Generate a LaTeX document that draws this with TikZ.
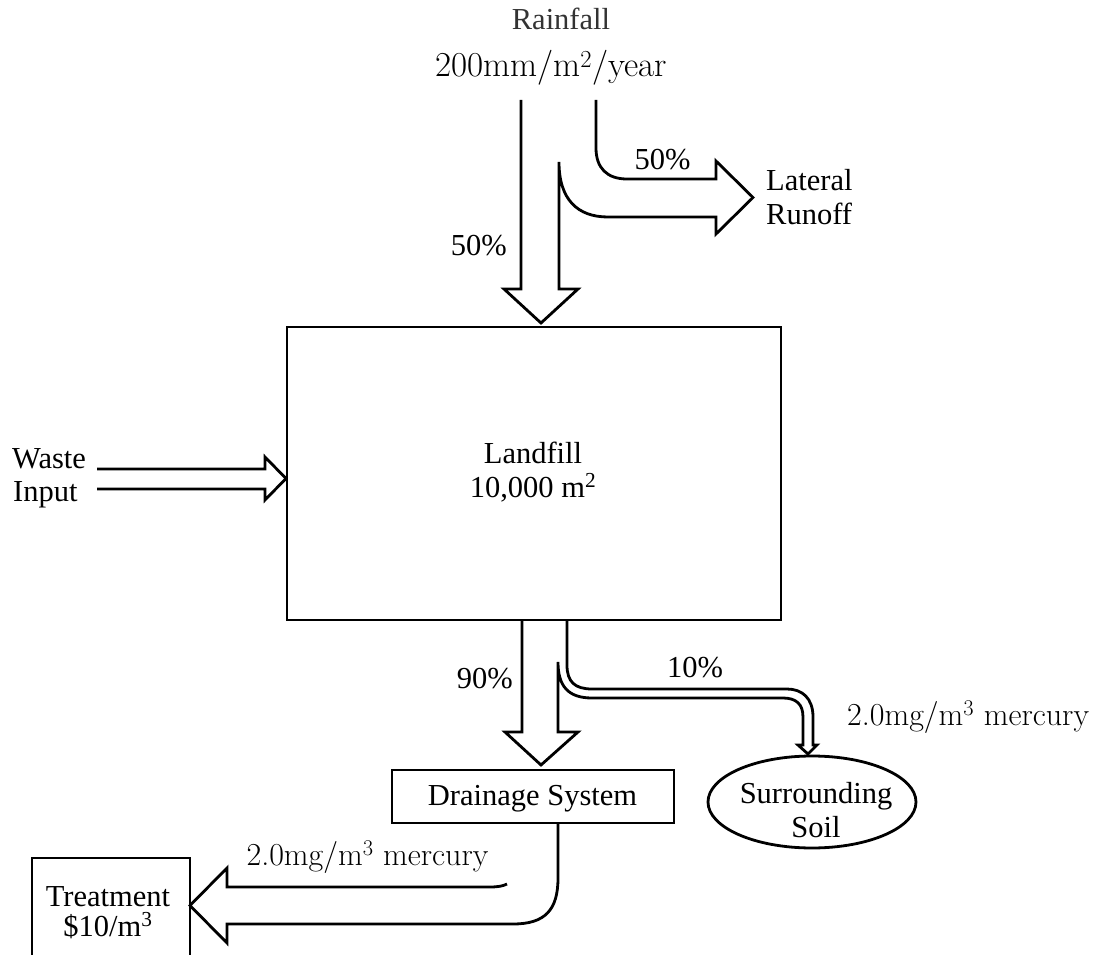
\documentclass[tikz,border=0pt]{standalone}
\usepackage{fontspec}
\setmainfont{Liberation Serif}
\newfontfamily\lmfont{Latin Modern Roman}
\usetikzlibrary{shapes.geometric}
\tikzset{
  ln/.style={line width=2.8pt, line join=miter, black},
  times/.style={font=\fontsize{30.5}{34}\selectfont, inner sep=0pt, text=black},
  lmtext/.style={font=\lmfont\fontsize{32}{36}\selectfont, inner sep=0pt, text=black},
  boxnode/.style={draw, ln, rectangle, inner sep=0pt},
}
\begin{document}
\begin{tikzpicture}[x=1pt,y=-1pt]
\useasboundingbox (0,0) rectangle (1096,955);

% boxes
\node[boxnode, minimum width=494, minimum height=293] (landfill) at (534,473.5) {};
\node[times, anchor=base] (landfilltxt) at (533,463) {Landfill};
\node[times, anchor=base] (landfillarea) at (533,497) {10,000 m\textsuperscript{2}};

\node[boxnode, minimum width=282, minimum height=53] (drain) at (533,796.5) {};
\node[times, anchor=base] (draintxt) at (532.5,805) {Drainage System};

\node[draw, ln, ellipse, minimum width=208, minimum height=92, inner sep=0pt] (soil) at (812,802) {};
\node[times, anchor=base] (soil1) at (816,803) {Surrounding};
\node[times, anchor=base] (soil2) at (816,837) {Soil};

% treatment box (cut off at the bottom)
\coordinate (tbl) at (32,958);
\coordinate (tbr) at (190,958);
\draw[ln] (tbl) -- (32,858) -- (190,858) -- (tbr);
\node[times, anchor=base] (treat1) at (108,906) {Treatment};
\node[times, anchor=base] (treat2) at (108,936) {\$10/m\textsuperscript{3}};

% top labels
\node[times, anchor=base, text=black!80] (rain) at (561,30) {Rainfall};
\node[lmtext, anchor=base, font=\lmfont\fontsize{35}{38}\selectfont] (rate) at (551,77) {200mm/m\textsuperscript{2}/year};

% rainfall split arrow
\draw[ln] (521,100) -- (521,289) -- (504,289) -- (541,323) -- (578,289) -- (559,289) -- (559,162)
  .. controls (559,200) and (578,217) .. (608,217) -- (716,217) -- (716,234) -- (753,197.5)
  -- (716,161) -- (716,179) -- (627,179) .. controls (607,179) and (596,168) .. (596,148) -- (596,100);
\node[times, anchor=base] (p50a) at (662.5,170) {50\%};
\node[times, anchor=base east] (p50b) at (507,255) {50\%};
\node[times, anchor=base west] (lat1) at (766,190) {Lateral};
\node[times, anchor=base west] (lat2) at (766,225) {Runoff};

% waste input arrow
\draw[ln] (97,469) -- (265,469) -- (265,457) -- (286,478.5) -- (265,500) -- (265,489) -- (97,489);
\node[times, anchor=base west] (waste1) at (12,468) {Waste};
\node[times, anchor=base west] (waste2) at (13,501) {Input};

% bottom split arrow (90% to drainage, 10% to soil)
\draw[ln] (522,621) -- (522,732) -- (505,732) -- (541,765) -- (578,732) -- (558,732) -- (558,662)
  .. controls (558,686) and (568,698) .. (592,698) -- (783,698)
  .. controls (796,698) and (803,704) .. (803,717) -- (803,745) -- (798,745) -- (808,754)
  -- (817,745) -- (813,745) -- (813,717) .. controls (813,698) and (802,689) .. (787,689)
  -- (592,689) .. controls (575,689) and (567,682) .. (567,665) -- (567,621);
\node[times, anchor=base east] (p90) at (513,688) {90\%};
\node[times, anchor=base] (p10) at (695,677) {10\%};
\node[lmtext, anchor=base west] (merc1) at (847,725) {2.0mg/m\textsuperscript{3} mercury};

% drainage to treatment arrow
\draw[ln] (558,824) -- (558,878) .. controls (558,910) and (545,924) .. (513,924) -- (227,924)
  -- (227,943) -- (190,905.5) -- (227,868) -- (227,887) -- (490,887)
  .. controls (498,887) and (503,886) .. (507,884);
\node[lmtext, anchor=base] (merc2) at (367.5,865) {2.0mg/m\textsuperscript{3} mercury};
\end{tikzpicture}
\end{document}
